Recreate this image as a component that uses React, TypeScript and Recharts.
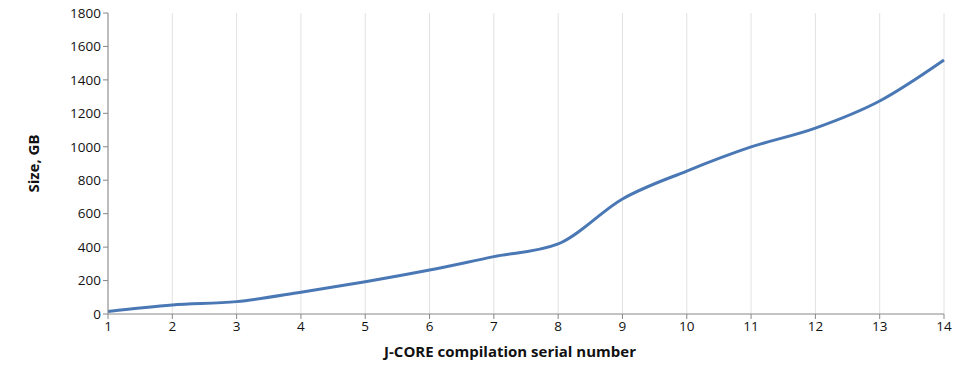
import { LineChart, Line, XAxis, YAxis, CartesianGrid } from 'recharts';

const builds = [1, 2, 3, 4, 5, 6, 7, 8, 9, 10, 11, 12, 13, 14];
const sizeGb = [15, 54, 74, 130, 193, 263, 343, 419, 688, 855, 999, 1112, 1274, 1519];
const yTicks = [0, 200, 400, 600, 800, 1000, 1200, 1400, 1600, 1800];

const data = builds.map((b, i) => ({ build: b, size: sizeGb[i] }));

const font = '"Open Sans", "DejaVu Sans", sans-serif';

export default function App() {
  return (
    <div style={{ position: 'absolute', left: 0, top: 0, width: 960, height: 392, background: '#fff' }}>
      <LineChart width={960} height={392} data={data} margin={{ top: 13, right: 16, left: 0, bottom: 20 }}>
        <CartesianGrid horizontal={false} stroke="#e2e2e2" />
        <XAxis
          dataKey="build"
          type="number"
          domain={[1, 14]}
          ticks={builds}
          interval={0}
          stroke="#888"
          tickSize={5}
          tick={{ fill: '#111', fontSize: 13.5, fontFamily: font }}
          height={58}
          label={{
            value: 'J-CORE compilation serial number',
            position: 'insideBottom',
            offset: 15,
            dx: -16,
            style: { fill: '#111', fontSize: 15, fontWeight: 'bold', fontFamily: font },
          }}
        />
        <YAxis
          domain={[0, 1800]}
          ticks={yTicks}
          interval={0}
          width={108}
          stroke="#888"
          tickSize={5}
          tick={{ fill: '#111', fontSize: 13.5, fontFamily: font }}
          label={{
            value: 'Size, GB',
            angle: -90,
            position: 'insideLeft',
            offset: 34,
            style: { fill: '#111', fontSize: 15, fontWeight: 'bold', fontFamily: font, textAnchor: 'middle' },
          }}
        />
        <Line
          type="monotone"
          dataKey="size"
          stroke="#4a78b5"
          strokeWidth={3}
          dot={false}
          isAnimationActive={false}
        />
      </LineChart>
    </div>
  );
}
